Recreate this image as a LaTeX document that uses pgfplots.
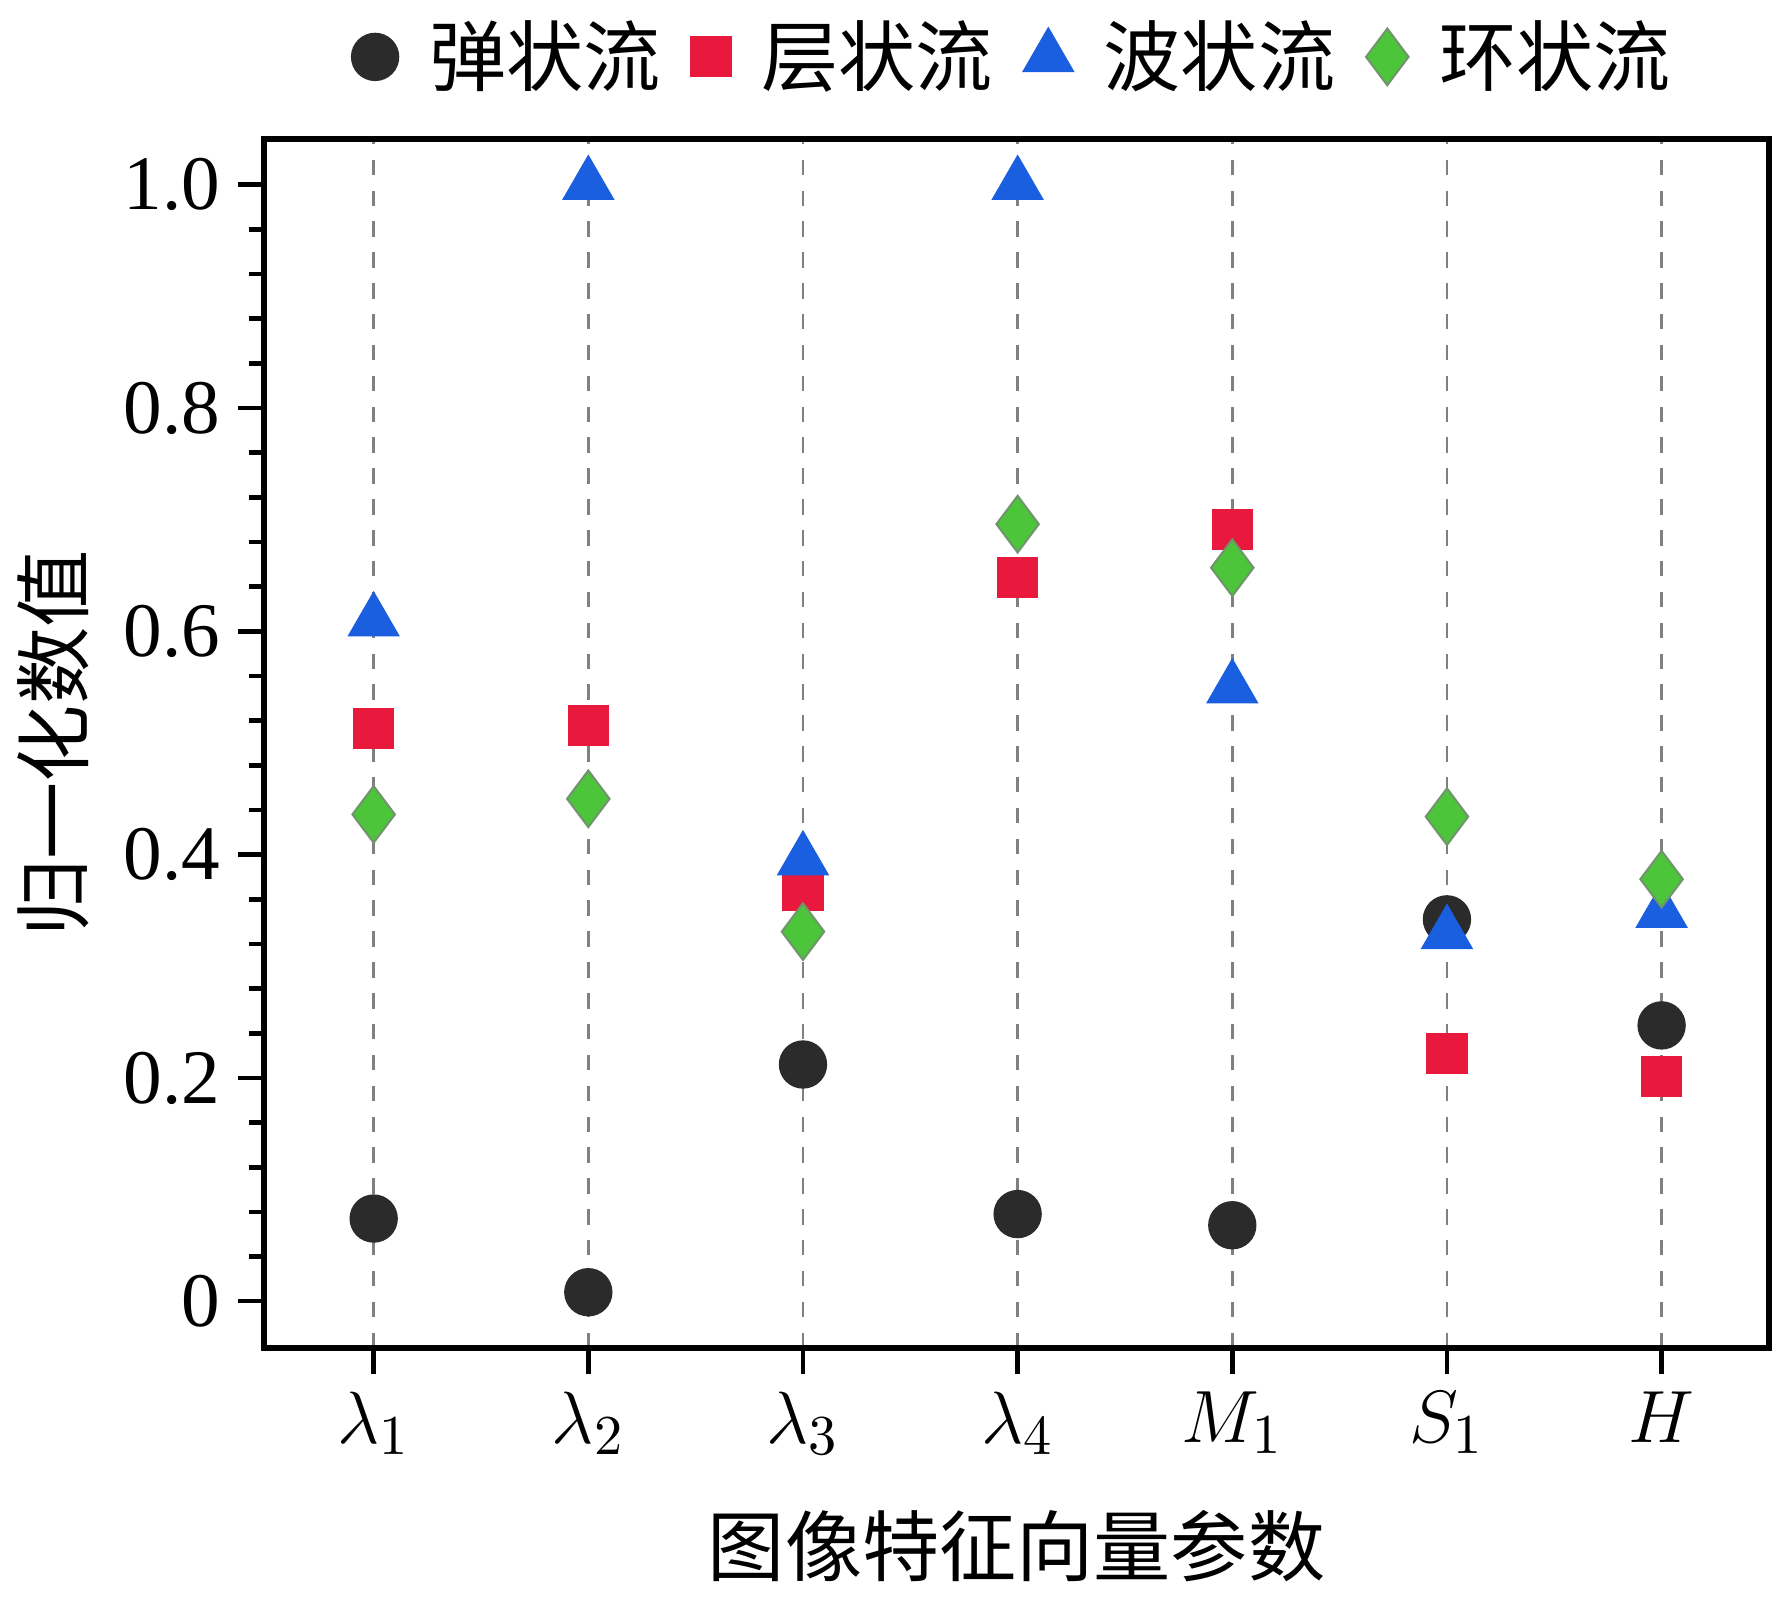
\documentclass[border=0pt]{standalone}
\usepackage{fontspec}
\setmainfont{Liberation Serif}
\newfontfamily\cjk{Noto Sans CJK SC}
\usepackage{pgfplots}
\pgfplotsset{compat=1.18}
\definecolor{cblk}{HTML}{2B2B2B}
\definecolor{cred}{HTML}{E8193C}
\definecolor{cblu}{HTML}{1A5FE0}
\definecolor{cgrn}{HTML}{4CC53A}
\begin{document}
\begin{tikzpicture}
\begin{axis}[
  width=10.28cm, height=8.26cm, scale only axis,
  xmin=-0.51, xmax=6.5, ymin=-0.042, ymax=1.041,
  xtick={0,...,6},
  xticklabels={$\lambda_1$,$\lambda_2$,$\lambda_3$,$\lambda_4$,$M_1$,$S_1$,$H$},
  ytick={0,0.2,0.4,0.6,0.8,1.0},
  yticklabels={0,0.2,0.4,0.6,0.8,1.0},
  minor y tick num=4,
  tick align=outside, xtick pos=bottom, ytick pos=left,
  major tick length=5pt, minor tick length=3pt,
  axis line style={line width=1.2pt}, tick style={line width=0.9pt,black},
  xmajorgrids, grid style={dashed,gray,line width=0.5pt},
  ticklabel style={font=\fontsize{15}{17}\selectfont},
  /pgf/number format/assume math mode=true,
  xlabel={\cjk\fontsize{15}{17}\selectfont 图像特征向量参数},
  ylabel={\cjk\fontsize{15}{17}\selectfont 归一化数值},
  xlabel style={yshift=-4pt},
  legend style={draw=none, at={(0.5,1.02)}, anchor=south, font=\cjk\fontsize{15}{17}\selectfont, column sep=4pt},
  legend columns=4,
]
\addplot[only marks, mark=*, mark size=4.5pt, color=cblk] coordinates {(0,0.074)(1,0.008)(2,0.212)(3,0.078)(4,0.068)(5,0.342)(6,0.247)};
\addlegendentry{弹状流}
\addplot[only marks, mark=square*, mark size=3.8pt, color=cred] coordinates {(0,0.513)(1,0.516)(2,0.368)(3,0.648)(4,0.691)(5,0.222)(6,0.201)};
\addlegendentry{层状流}
\addplot[only marks, mark=triangle*, mark size=5.5pt, color=cblu] coordinates {(0,0.609)(1,1.0)(2,0.395)(3,1.0)(4,0.549)(5,0.329)(6,0.348)};
\addlegendentry{波状流}
\addplot[only marks, mark=diamond*, mark size=5.5pt, color=cgrn, mark options={draw=gray!70!cgrn}] coordinates {(0,0.436)(1,0.45)(2,0.331)(3,0.696)(4,0.657)(5,0.434)(6,0.378)};
\addlegendentry{环状流}
\end{axis}
\end{tikzpicture}
\end{document}
